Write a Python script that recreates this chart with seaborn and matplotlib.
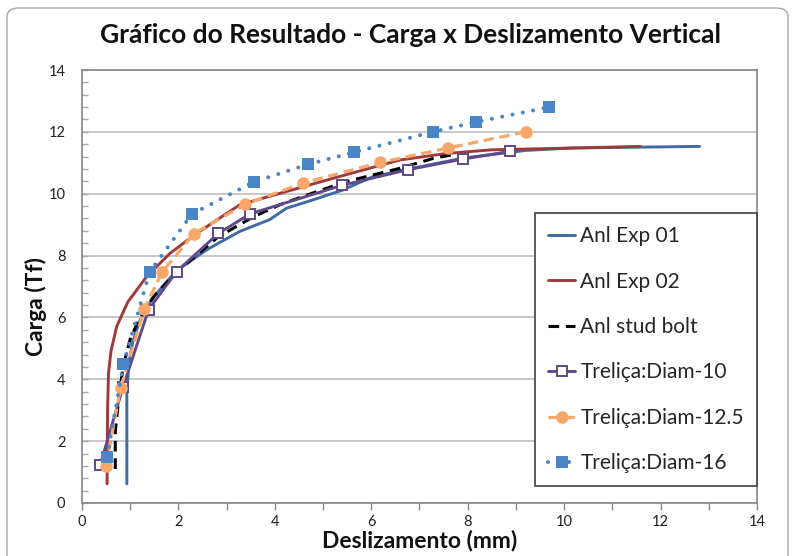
import matplotlib
matplotlib.use("Agg")
import matplotlib.pyplot as plt
import seaborn as sns
import numpy as np
import pandas as pd
from matplotlib.ticker import MultipleLocator
from matplotlib.patches import FancyBboxPatch

# ---------------- data ----------------
exp01_x = [0.93, 0.93, 0.97, 1.05, 1.20, 1.45, 1.95, 2.60, 3.27, 3.89, 4.24, 4.79, 5.41, 6.03, 6.72, 7.90, 9.20, 10.20, 12.81]
exp01_y = [0.62, 3.50, 4.50, 5.20, 5.90, 6.60, 7.50, 8.20, 8.78, 9.16, 9.53, 9.80, 10.12, 10.55, 10.78, 11.15, 11.40, 11.48, 11.53]

exp02_x = [0.52, 0.53, 0.55, 0.60, 0.72, 0.95, 1.34, 1.83, 2.38, 3.27, 4.10, 5.21, 6.59, 7.55, 8.50, 10.30, 11.58]
exp02_y = [0.62, 3.00, 4.20, 4.90, 5.71, 6.50, 7.32, 8.08, 8.72, 9.64, 10.01, 10.50, 11.09, 11.30, 11.42, 11.48, 11.53]

stud_x = [0.69, 0.69, 0.75, 0.85, 1.00, 1.17, 1.50, 1.95, 2.82, 3.55, 4.10, 4.65, 5.50, 6.59, 7.28, 7.65]
stud_y = [1.10, 2.30, 3.20, 4.40, 5.30, 5.90, 6.70, 7.45, 8.60, 9.25, 9.64, 9.95, 10.40, 10.82, 11.14, 11.25]

d10_x = [0.38, 0.85, 1.38, 1.96, 2.83, 3.49, 5.39, 6.77, 7.90, 8.88]
d10_y = [1.24, 3.75, 6.25, 7.48, 8.72, 9.35, 10.27, 10.78, 11.12, 11.37]

d125_x = [0.50, 0.80, 1.29, 1.66, 2.32, 3.39, 4.59, 6.19, 7.60, 9.20]
d125_y = [1.20, 3.72, 6.26, 7.46, 8.71, 9.66, 10.35, 11.01, 11.48, 12.00]

d16_x = [0.52, 0.86, 1.40, 2.28, 3.56, 4.69, 5.64, 7.28, 8.18, 9.69]
d16_y = [1.48, 4.49, 7.46, 9.34, 10.38, 10.95, 11.34, 12.00, 12.32, 12.80]

labels = ["Anl Exp 01", "Anl Exp 02", "Anl stud bolt",
          "Treliça:Diam-10", "Treliça:Diam-12.5", "Treliça:Diam-16"]

x_ticks = [0, 2, 4, 6, 8, 10, 12, 14]
y_ticks = [0, 2, 4, 6, 8, 10, 12, 14]

# ---------------- style ----------------
sns.set_theme(style="white")
plt.rcParams["font.family"] = ["Lato", "DejaVu Sans"]

fig = plt.figure(figsize=(7.98, 5.56), dpi=100)
ax = fig.add_axes([82 / 798, 1 - 503 / 556, (757 - 82) / 798, (503 - 70) / 556])

# outer chart border
fig.patches.append(FancyBboxPatch((7 / 798, -0.05), (788 - 7) / 798, 1 - 8 / 556 + 0.05,
                                  boxstyle="round,pad=0,rounding_size=0.015",
                                  transform=fig.transFigure, fill=False,
                                  edgecolor="#A6A6A6", linewidth=1.0, zorder=0))

ax.set_axisbelow(True)
ax.yaxis.grid(True, color="#BFBFBF", linewidth=1.2)
ax.xaxis.grid(False)

c_exp01 = "#3F6BA4"
c_exp02 = "#9E3B3A"
c_d10 = "#5F4A87"
c_d125 = "#F8A66A"
c_d16 = "#4A85C6"

sns.lineplot(x=exp01_x, y=exp01_y, sort=False, estimator=None, ax=ax,
             color=c_exp01, linewidth=2.1, label=labels[0])
sns.lineplot(x=exp02_x, y=exp02_y, sort=False, estimator=None, ax=ax,
             color=c_exp02, linewidth=2.1, label=labels[1])
sns.lineplot(x=stud_x, y=stud_y, sort=False, estimator=None, ax=ax,
             color="black", linewidth=2.2, dashes=(3.5, 2.2), label=labels[2])
sns.lineplot(x=d10_x, y=d10_y, sort=False, estimator=None, ax=ax,
             color=c_d10, linewidth=2.1, marker="s", markersize=7,
             markerfacecolor="white", markeredgecolor=c_d10, markeredgewidth=1.4,
             label=labels[3])
sns.lineplot(x=d125_x, y=d125_y, sort=False, estimator=None, ax=ax,
             color=c_d125, linewidth=2.3, dashes=(3.2, 1.8), marker="o", markersize=9,
             markerfacecolor=c_d125, markeredgecolor=c_d125, markeredgewidth=0,
             label=labels[4])
sns.lineplot(x=d16_x, y=d16_y, sort=False, estimator=None, ax=ax,
             color=c_d16, linewidth=2.9, dashes=(0.01, 2.6), dash_capstyle="round",
             marker="s", markersize=8.5,
             markerfacecolor=c_d16, markeredgecolor=c_d16, markeredgewidth=0,
             label=labels[5])

ax.set_xlim(0, 14)
ax.set_ylim(0, 14)
ax.set_xticks(x_ticks)
ax.set_yticks(y_ticks)
ax.xaxis.set_minor_locator(MultipleLocator(1))
ax.yaxis.set_minor_locator(MultipleLocator(0.4))
ax.tick_params(axis="x", which="both", direction="out", length=5, width=1,
               color="#868686", labelsize=10.5, labelcolor="#222222", pad=4, bottom=True)
ax.tick_params(axis="y", which="both", direction="in", length=4, width=1,
               color="#A6A6A6", labelsize=10.5, labelcolor="#222222", pad=12, left=True)

for side, sp in ax.spines.items():
    sp.set_visible(True)
    sp.set_color("#868686")
    sp.set_linewidth(1.2)

ax.set_xlabel("Deslizamento (mm)", fontsize=16.5, fontweight="bold", labelpad=0, color="#111111")
ax.set_ylabel("Carga (Tf)", fontsize=16.5, fontweight="bold", color="#111111")
ax.yaxis.set_label_coords(-0.052, 0.453)
fig.text(410 / 798, 1 - 35 / 556, "Gráfico do Resultado - Carga x Deslizamento Vertical",
         ha="center", va="center", fontsize=19, fontweight="bold", color="#111111")

leg = ax.legend(loc="upper right", bbox_to_anchor=(1.0, (503 - 213) / 433),
                borderaxespad=0, frameon=True, fancybox=False, framealpha=1,
                edgecolor="#404040", fontsize=15, labelspacing=1.22,
                handlelength=1.3, handletextpad=0.25, borderpad=0.63, numpoints=1)
leg.get_frame().set_linewidth(1.2)

fig.savefig("out.png", dpi=100)
